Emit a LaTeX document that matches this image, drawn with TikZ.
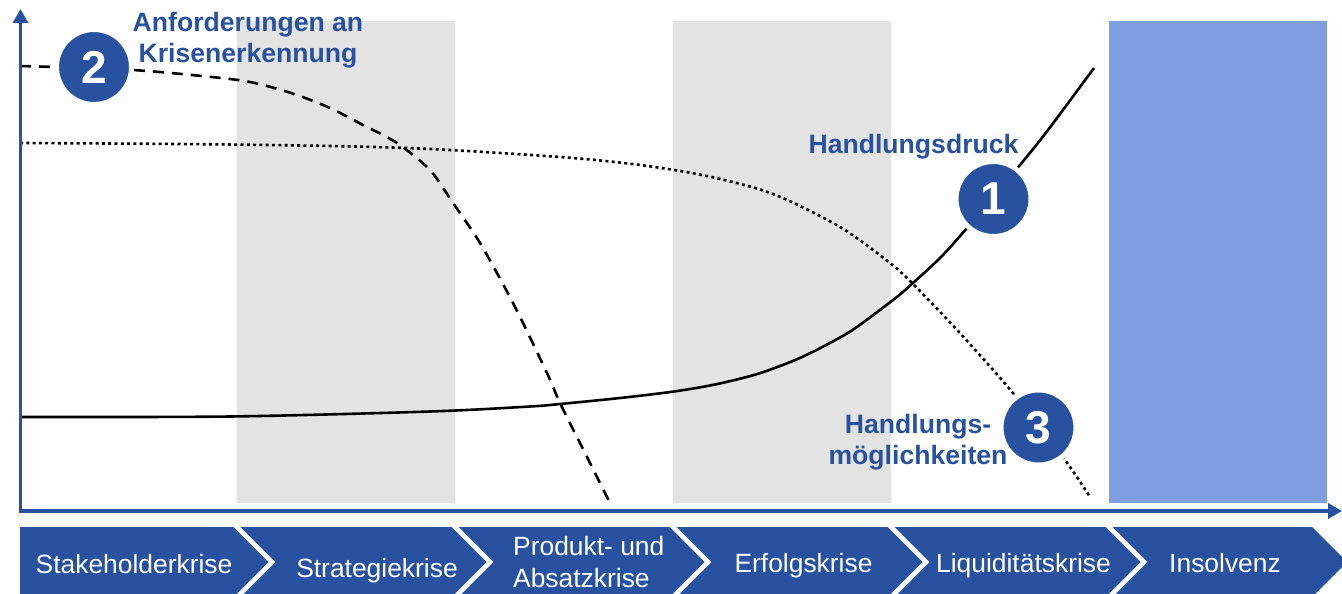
\documentclass[tikz,border=0pt]{standalone}
\usepackage{fontspec}
\setmainfont{Liberation Sans}
\usetikzlibrary{arrows.meta}
\definecolor{kblue}{RGB}{40,82,160}
\definecolor{insblue}{RGB}{127,159,224}
\definecolor{bandgray}{RGB}{227,227,227}

\begin{document}
\begin{tikzpicture}[x=1pt,y=-1pt,
  band/.style={fill=bandgray},
  curve/.style={line width=2.6pt, black},
  chev/.style={fill=kblue},
  chevtext/.style={text=white, inner sep=0pt, anchor=base,
    font=\fontsize{26.4}{32}\selectfont},
  phase/.style={text=kblue, inner sep=0pt, anchor=base, align=center,
    font=\bfseries\fontsize{26.6}{31.5}\selectfont},
  numcircle/.style={circle, fill=kblue, draw=white, line width=5pt,
    minimum size=75pt, inner sep=0pt, text=white,
    font=\bfseries\fontsize{46}{46}\selectfont},
  axis/.style={kblue, line width=3.5pt,
    {Triangle[length=14pt,width=15pt]}-{Triangle[length=14pt,width=15pt]}}]

\useasboundingbox (0,0) rectangle (1342,594);
\clip (0,0) rectangle (1342,594);

% crisis phases in the background
\fill[band] (237,21) rectangle (455,503);
\fill[band] (673,21) rectangle (891,503);
\fill[insblue] (1109,21) rectangle (1327,503);

% (2) requirements for crisis detection
\draw[curve, dash pattern=on 11pt off 8pt] plot[smooth] coordinates {
  (20,66) (133,70) (230,79) (263,85) (297,95) (330,108) (363,125)
  (397,143) (430,170) (453,203) (480,243) (513,303) (547,373)
  (560,403) (585,453) (610,503)};

% (3) options for action
\draw[curve, dash pattern=on 3pt off 3.3pt] plot[smooth] coordinates {
  (20,143) (230,144.5) (407,148) (560,157) (640,165) (707,176)
  (773,194) (840,227) (890,263) (913,284) (958,331) (1013,393)
  (1065,460) (1090,497)};

% (1) pressure to act
\draw[curve] plot[smooth] coordinates {
  (20,417) (230,416.5) (430,411.5) (530,406.5) (560,404) (620,398)
  (674,391.5) (715,384.5) (754,375) (780,366) (802,357) (828,344)
  (854,329) (893,300) (913,283) (941,257) (967,228) (1020,165)
  (1048,130) (1094,68)};

% axes
\coordinate (ytop) at (20.5,9);
\coordinate (origin) at (20.5,511);
\coordinate (xend) at (1342,511);
\draw[axis] (ytop) -- (origin) -- (xend);

% numbered markers
\node[numcircle] (c2) at (94,67) {2};
\node[numcircle] (c1) at (993.5,199) {1};
\node[numcircle] (c3) at (1038.5,427.5) {3};

% curve labels (base anchor sits on the last line)
\node[phase] (l2) at (248,63) {Anforderungen an\\Krisenerkennung};
\node[phase] (l1) at (913.5,153) {Handlungsdruck};
\node[phase] (l3) at (918,464.5) {Handlungs-\\möglichkeiten};

% chevron row
\fill[chev] (20,527) -- (233.5,527) -- (268.5,562) -- (233.5,597)
  -- (20,597) -- cycle;
\foreach \l/\r in {240.5/451.5, 458.5/669.5, 676.5/887.5,
                   894.5/1105.5, 1112.5/1312} {
  \fill[chev] (\l,527) -- (\r,527) -- (\r+35,562) -- (\r,597)
    -- (\l,597) -- (\l+35,562) -- cycle;
}

\node[chevtext] (s1) at (134,573) {Stakeholderkrise};
\node[chevtext] (s2) at (377,577) {Strategiekrise};
\node[chevtext, anchor=base west, align=left] (s3) at (513,587)
  {Produkt- und\\Absatzkrise};
\node[chevtext] (s4) at (803.5,572) {Erfolgskrise};
\node[chevtext] (s5) at (1023.5,572) {Liquiditätskrise};
\node[chevtext] (s6) at (1225,572) {Insolvenz};
\end{tikzpicture}
\end{document}
